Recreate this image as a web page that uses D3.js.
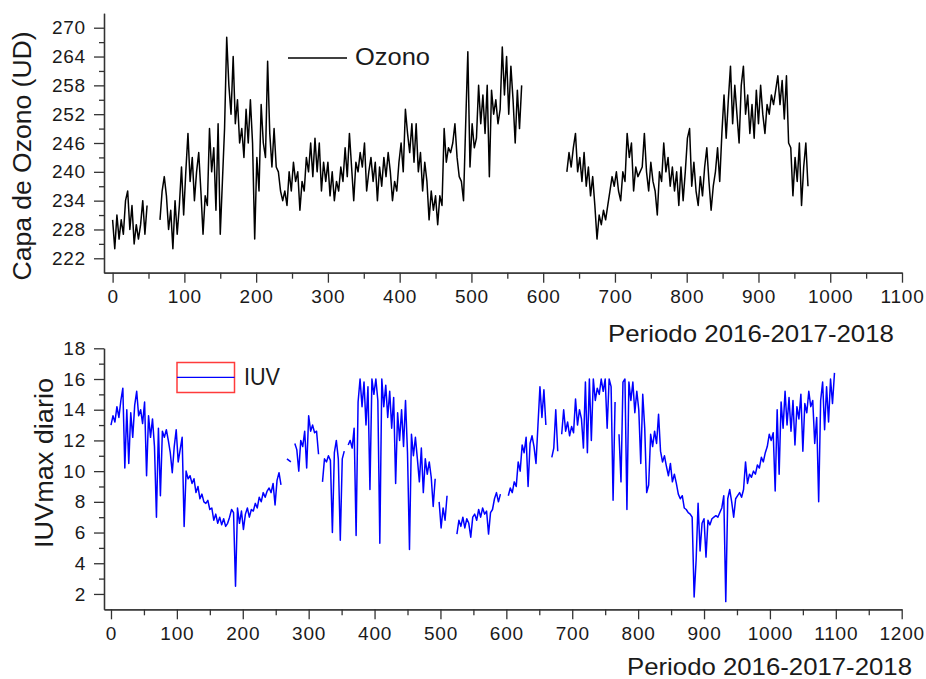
<!DOCTYPE html>
<html>
<head>
<meta charset="utf-8">
<script src="https://cdn.jsdelivr.net/npm/d3@7"></script>
<style>
  body { margin: 0; background: #fff; }
  svg { display: block; font-family: "Liberation Sans", Arial, sans-serif; }
  .tick text { font-size: 19px; letter-spacing: 0.8px; fill: #1a1a1a; }
  .tick line, .domain { stroke: #333; stroke-width: 1.3; }
  .title { fill: #1a1a1a; }
</style>
</head>
<body>
<svg id="chart" width="926" height="679"></svg>
<script>
// readings, one every 3 days (null = no data)
const STEP_DAYS = 3;

const ozono = [
  230,224,231,226,230,227,234,236,228,233,
  225,229,226,229,234,227,233,null,null,null,
  null,null,230,236,239,235,228,232,224,234,
  227,233,241,231,240,248,238,243,234,240,
  244,236,227,235,233,249,240,245,232,250,
  227,238,249,268,258,252,264,250,255,246,
  249,243,253,246,255,246,226,243,236,254,
  246,243,263,248,241,249,241,240,236,234,
  236,233,240,236,242,238,240,232,238,236,
  243,240,246,239,247,240,246,236,242,238,
  242,235,240,234,238,236,241,238,245,239,
  248,241,234,242,240,244,241,246,236,240,
  243,238,242,234,241,237,243,239,244,240,
  234,238,236,242,246,240,253,248,244,250,
  242,250,240,244,236,242,238,230,236,232,
  235,229,235,233,249,242,245,244,246,250,
  243,239,238,234,250,265,241,250,245,247,
  258,250,256,248,258,239,257,252,255,250,
  253,266,256,264,252,262,255,246,257,249,
  258,null,null,null,null,null,null,null,null,null,
  null,null,null,null,null,null,null,null,null,null,
  null,240,244,241,245,248,240,243,238,244,
  237,241,235,239,233,226,231,229,232,230,
  233,236,239,237,240,236,234,240,238,248,
  243,246,236,241,239,240,241,248,240,236,
  242,238,236,231,240,238,246,240,243,237,
  241,236,240,233,241,234,240,247,249,237,
  242,236,233,239,235,241,245,238,232,237,
  240,245,238,248,256,247,255,262,250,258,
  252,246,258,262,252,256,248,254,247,257,
  250,258,252,248,254,252,256,254,257,260,
  254,259,251,260,246,245,235,243,238,246,
  233,241,246,237
];

const iuv = [
  13.0,13.6,13.2,14.2,13.5,14.6,15.4,10.2,14.0,10.5,
  13.8,12.2,14.3,15.2,13.6,14.0,13.1,14.5,9.7,13.6,
  12.2,13.4,11.6,7.0,12.8,8.4,12.6,12.2,12.7,12.0,
  11.2,9.9,11.6,12.7,10.6,11.4,12.2,6.4,10.0,9.5,
  9.7,9.2,9.5,8.6,9.0,8.2,8.5,8.0,7.9,8.1,
  7.5,7.6,6.8,7.2,6.6,7.0,6.5,6.9,6.4,6.6,
  7.0,7.5,7.3,2.5,7.6,6.6,7.4,6.2,7.2,7.6,
  7.0,7.5,7.4,7.9,7.6,8.3,8.0,8.6,8.3,8.7,
  8.9,8.6,9.2,7.8,9.4,9.9,9.1,null,null,10.8,
  10.7,10.6,null,11.8,11.4,10.0,12.0,11.6,12.6,10.2,
  13.6,12.6,13.0,12.5,12.6,11.1,null,9.3,10.8,10.6,
  11.0,10.7,6.0,11.2,12.0,10.8,5.5,10.8,11.3,null,
  11.7,12.0,11.5,12.8,5.8,14.5,16.0,14.2,15.8,13.0,
  15.5,8.8,16.0,15.0,16.0,14.6,5.3,16.0,14.2,15.6,
  13.5,15.2,12.8,14.8,9.2,13.8,12.0,14.0,11.6,14.6,
  11.2,4.9,12.4,11.0,12.2,10.8,9.3,11.5,8.6,10.8,
  9.8,10.6,9.6,7.7,9.5,null,8.0,6.3,7.6,6.8,
  8.4,null,null,null,null,5.9,6.8,6.4,7.0,6.3,
  6.9,6.6,5.7,7.0,7.2,6.8,7.5,7.0,7.6,7.2,
  7.4,5.9,7.3,7.5,8.2,8.6,8.0,8.5,null,null,
  null,8.4,8.9,8.6,9.3,9.0,10.6,10.0,11.7,11.2,
  12.2,9.0,11.8,12.3,11.6,10.5,13.0,15.5,13.5,15.3,
  13.0,null,null,10.9,11.5,14.0,11.3,null,12.4,14.0,
  12.6,13.2,12.3,12.9,12.5,14.7,13.0,14.0,13.4,11.5,
  15.8,11.2,16.0,12.0,16.0,14.6,15.4,15.0,16.0,15.2,
  16.0,12.8,16.0,15.5,8.1,14.5,null,12.4,9.3,15.8,
  16.0,7.5,15.8,14.6,15.8,13.8,15.2,14.0,10.5,15.0,
  12.8,8.6,9.1,12.4,11.6,12.6,11.8,13.7,11.3,10.6,
  11.0,10.3,9.7,10.5,9.3,9.8,9.2,8.5,8.2,8.4,
  7.6,7.5,7.3,7.2,7.0,1.8,4.2,7.9,4.8,6.6,
  6.9,4.4,6.8,6.5,6.9,7.0,7.1,7.0,7.3,7.6,
  8.4,1.5,8.2,8.8,8.0,7.0,8.2,8.4,8.6,8.3,
  8.8,10.6,9.2,9.8,9.6,10.0,9.8,10.4,10.2,10.9,
  10.6,11.2,11.6,12.4,12.0,12.5,8.7,14.0,9.8,14.5,
  12.8,15.2,13.0,14.8,12.6,14.6,11.7,14.2,13.4,15.0,
  11.3,14.4,13.8,15.2,14.2,14.6,11.8,13.5,8.0,14.6,
  15.8,12.7,15.5,13.2,16.0,14.4,16.4
];

// tick labels
const ozonoYTicks = [222, 228, 234, 240, 246, 252, 258, 264, 270];
const ozonoYMinor = [225, 231, 237, 243, 249, 255, 261, 267];
const ozonoXTicks = [0, 100, 200, 300, 400, 500, 600, 700, 800, 900, 1000, 1100];
const ozonoXMinor = [50, 150, 250, 350, 450, 550, 650, 750, 850, 950, 1050];

const iuvYTicks = [2, 4, 6, 8, 10, 12, 14, 16, 18];
const iuvYMinor = [3, 5, 7, 9, 11, 13, 15, 17];
const iuvXTicks = [0, 100, 200, 300, 400, 500, 600, 700, 800, 900, 1000, 1100, 1200];
const iuvXMinor = [50, 150, 250, 350, 450, 550, 650, 750, 850, 950, 1050, 1150];

const svg = d3.select("#chart");
const fmt = d3.format("d");

function drawPanel(cfg) {
  const x = d3.scaleLinear().domain(cfg.xDomain).range(cfg.xRange);
  const y = d3.scaleLinear().domain(cfg.yDomain).range(cfg.yRange);
  const g = svg.append("g");

  // minor ticks first, majors on top
  g.append("g")
    .attr("transform", `translate(0,${cfg.yRange[0]})`)
    .call(d3.axisBottom(x).tickValues(cfg.xMinor).tickSize(6).tickSizeOuter(0).tickFormat(""));
  g.append("g")
    .attr("transform", `translate(0,${cfg.yRange[0]})`)
    .call(d3.axisBottom(x).tickValues(cfg.xTicks).tickSize(10).tickSizeOuter(0).tickPadding(7).tickFormat(fmt));

  g.append("g")
    .attr("transform", `translate(${cfg.xRange[0]},0)`)
    .call(d3.axisLeft(y).tickValues(cfg.yMinor).tickSize(5).tickSizeOuter(0).tickFormat(""));
  g.append("g")
    .attr("transform", `translate(${cfg.xRange[0]},0)`)
    .call(d3.axisLeft(y).tickValues(cfg.yTicks).tickSize(10).tickSizeOuter(0).tickPadding(8).tickFormat(fmt));

  const points = cfg.values.map((v, i) => ({ day: i * STEP_DAYS, v: v }));
  const line = d3
    .line()
    .defined((d) => d.v !== null)
    .x((d) => x(d.day))
    .y((d) => y(d.v));

  g.append("path")
    .datum(points)
    .attr("fill", "none")
    .attr("stroke", cfg.color)
    .attr("stroke-width", 1.5)
    .attr("stroke-linejoin", "round")
    .attr("d", line);

  // axis titles
  g.append("text")
    .attr("class", "title")
    .attr("x", cfg.xTitle.x)
    .attr("y", cfg.xTitle.y)
    .attr("font-size", 24)
    .attr("textLength", cfg.xTitle.len)
    .attr("lengthAdjust", "spacingAndGlyphs")
    .text(cfg.xTitle.text);

  g.append("text")
    .attr("class", "title")
    .attr("transform", `translate(${cfg.yTitle.x},${cfg.yTitle.y}) rotate(-90)`)
    .attr("text-anchor", "middle")
    .attr("font-size", 25)
    .attr("textLength", cfg.yTitle.len)
    .attr("lengthAdjust", "spacingAndGlyphs")
    .text(cfg.yTitle.text);

  return g;
}

const ozonoPanel = drawPanel({
  values: ozono,
  color: "#000",
  xDomain: [-12, 1100], xRange: [104, 902],
  yDomain: [219, 273], yRange: [272.7, 13.3],
  xTicks: ozonoXTicks, xMinor: ozonoXMinor,
  yTicks: ozonoYTicks, yMinor: ozonoYMinor,
  xTitle: { text: "Periodo 2016-2017-2018", x: 608, y: 342, len: 286 },
  yTitle: { text: "Capa de Ozono (UD)", x: 31, y: 156, len: 249 },
});

const iuvPanel = drawPanel({
  values: iuv,
  color: "#0000ff",
  xDomain: [-10.6, 1200], xRange: [104, 901.7],
  yDomain: [1, 18], yRange: [609.3, 348.3],
  xTicks: iuvXTicks, xMinor: iuvXMinor,
  yTicks: iuvYTicks, yMinor: iuvYMinor,
  xTitle: { text: "Periodo 2016-2017-2018", x: 627, y: 675, len: 285 },
  yTitle: { text: "IUVmax diario", x: 53, y: 463, len: 170 },
});

// legends
ozonoPanel.append("line")
  .attr("x1", 288).attr("x2", 347)
  .attr("y1", 58).attr("y2", 58)
  .attr("stroke", "#000").attr("stroke-width", 1.3);
ozonoPanel.append("text")
  .attr("class", "title")
  .attr("x", 355).attr("y", 65)
  .attr("font-size", 23)
  .attr("textLength", 75)
  .attr("lengthAdjust", "spacingAndGlyphs")
  .text("Ozono");

iuvPanel.append("rect")
  .attr("x", 177).attr("y", 362.5)
  .attr("width", 57.5).attr("height", 30)
  .attr("fill", "none")
  .attr("stroke", "#ff3b3b").attr("stroke-width", 1.5);
iuvPanel.append("line")
  .attr("x1", 177).attr("x2", 234.5)
  .attr("y1", 377.3).attr("y2", 377.3)
  .attr("stroke", "#0000ff").attr("stroke-width", 1.3);
iuvPanel.append("text")
  .attr("class", "title")
  .attr("x", 244).attr("y", 385)
  .attr("font-size", 24)
  .attr("textLength", 36)
  .attr("lengthAdjust", "spacingAndGlyphs")
  .text("IUV");
</script>
</body>
</html>
